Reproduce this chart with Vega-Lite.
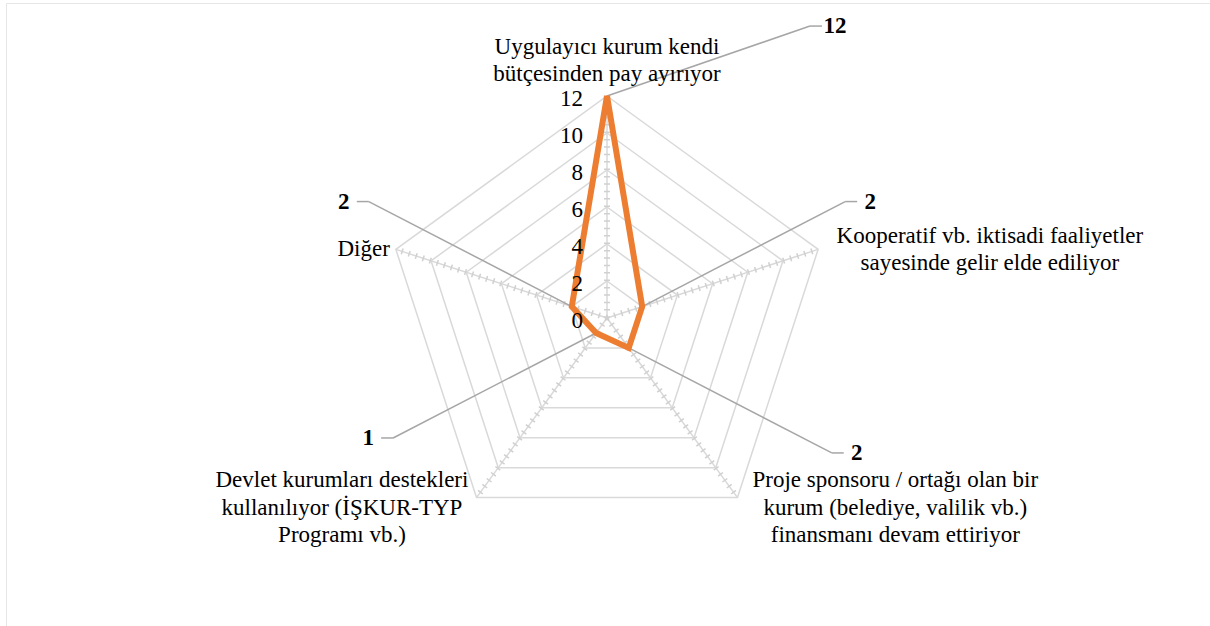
{
  "$schema": "https://vega.github.io/schema/vega-lite/v6.json",
  "width": 1204,
  "height": 623,
  "autosize": {"type": "none"},
  "padding": {"left": 6, "top": 3, "right": 0, "bottom": 0},
  "background": "white",
  "config": {"view": {"stroke": "#e6e6e6", "strokeWidth": 1}},
  "data": {"values": [
    {"category": "Uygulayıcı kurum kendi\nbütçesinden pay ayırıyor", "value": 12},
    {"category": "Kooperatif vb. iktisadi faaliyetler\nsayesinde gelir elde ediliyor", "value": 2},
    {"category": "Proje sponsoru / ortağı olan bir\nkurum (belediye, valilik vb.)\nfinansmanı devam ettiriyor", "value": 2},
    {"category": "Devlet kurumları destekleri\nkullanılıyor (İŞKUR-TYP\nProgramı vb.)", "value": 1},
    {"category": "Diğer", "value": 2}
  ]},
  "transform": [
    {"window": [{"op": "row_number", "as": "rn"}]},
    {"calculate": "(datum.rn - 1) * 2 * PI / 5", "as": "ang"},
    {"calculate": "sin(datum.ang)", "as": "sx"},
    {"calculate": "cos(datum.ang)", "as": "cy"},
    {"calculate": "0", "as": "o"},
    {"calculate": "datum.value * datum.sx", "as": "vx"},
    {"calculate": "datum.value * datum.cy", "as": "vy"},
    {"calculate": "12 * datum.sx", "as": "ex"},
    {"calculate": "12 * datum.cy", "as": "ey"},
    {"calculate": "datum.sx > -0.01 ? 1 : -1", "as": "dX"},
    {"calculate": "datum.cy >= 0 ? 1 : -1", "as": "dY"},
    {"calculate": "datum.vx + datum.dX * 228 / 18.5", "as": "tx"},
    {"calculate": "min(datum.vy + datum.dY * 105 / 18.5, 15.78)", "as": "ty"},
    {"calculate": "datum.tx - datum.dX * 25 / 18.5", "as": "kx"},
    {"calculate": "datum.tx - datum.dX * 13 / 18.5", "as": "hx"}
  ],
  "layer": [
    {
      "transform": [
        {"calculate": "[2,4,6,8,10,12]", "as": "lv"},
        {"flatten": ["lv"]},
        {"calculate": "datum.lv * datum.sx", "as": "gx"},
        {"calculate": "datum.lv * datum.cy", "as": "gy"}
      ],
      "mark": {"type": "line", "interpolate": "linear-closed", "color": "#d9d9d9", "strokeWidth": 1.5},
      "encoding": {
        "x": {"field": "gx", "type": "quantitative", "scale": {"domain": [-32.4865, 32.5946], "nice": false, "zero": false}, "axis": null},
        "y": {"field": "gy", "type": "quantitative", "scale": {"domain": [-16.6486, 17.027], "nice": false, "zero": false}, "axis": null},
        "detail": {"field": "lv", "type": "nominal"},
        "order": {"field": "rn", "type": "quantitative"}
      }
    },
    {
      "mark": {"type": "rule", "color": "#d9d9d9", "strokeWidth": 1.5},
      "encoding": {
        "x": {"field": "o", "type": "quantitative", "scale": {"domain": [-32.4865, 32.5946], "nice": false, "zero": false}, "axis": null},
        "y": {"field": "o", "type": "quantitative", "scale": {"domain": [-16.6486, 17.027], "nice": false, "zero": false}, "axis": null},
        "x2": {"field": "ex"},
        "y2": {"field": "ey"}
      }
    },
    {
      "mark": {"type": "rule", "color": "#d0d0d0", "strokeWidth": 6, "strokeDash": [1.5, 5.9]},
      "encoding": {
        "x": {"field": "o", "type": "quantitative", "scale": {"domain": [-32.4865, 32.5946], "nice": false, "zero": false}, "axis": null},
        "y": {"field": "o", "type": "quantitative", "scale": {"domain": [-16.6486, 17.027], "nice": false, "zero": false}, "axis": null},
        "x2": {"field": "ex"},
        "y2": {"field": "ey"}
      }
    },
    {
      "mark": {"type": "rule", "color": "#a6a6a6", "strokeWidth": 1.5},
      "encoding": {
        "x": {"field": "vx", "type": "quantitative", "scale": {"domain": [-32.4865, 32.5946], "nice": false, "zero": false}, "axis": null},
        "y": {"field": "vy", "type": "quantitative", "scale": {"domain": [-16.6486, 17.027], "nice": false, "zero": false}, "axis": null},
        "x2": {"field": "kx"},
        "y2": {"field": "ty"}
      }
    },
    {
      "mark": {"type": "rule", "color": "#a6a6a6", "strokeWidth": 1.5},
      "encoding": {
        "x": {"field": "kx", "type": "quantitative", "scale": {"domain": [-32.4865, 32.5946], "nice": false, "zero": false}, "axis": null},
        "y": {"field": "ty", "type": "quantitative", "scale": {"domain": [-16.6486, 17.027], "nice": false, "zero": false}, "axis": null},
        "x2": {"field": "hx"}
      }
    },
    {
      "mark": {"type": "line", "interpolate": "linear-closed", "color": "#ED7D31", "strokeWidth": 6},
      "encoding": {
        "x": {"field": "vx", "type": "quantitative", "scale": {"domain": [-32.4865, 32.5946], "nice": false, "zero": false}, "axis": null},
        "y": {"field": "vy", "type": "quantitative", "scale": {"domain": [-16.6486, 17.027], "nice": false, "zero": false}, "axis": null},
        "order": {"field": "rn", "type": "quantitative"}
      }
    },
    {
      "transform": [
        {"filter": "datum.rn == 1"},
        {"calculate": "[0,2,4,6,8,10,12]", "as": "lv"},
        {"flatten": ["lv"]}
      ],
      "mark": {"type": "text", "align": "right", "baseline": "middle", "dx": -24, "dy": 3, "fontSize": 23, "font": "Liberation Serif", "color": "#000000"},
      "encoding": {
        "x": {"field": "o", "type": "quantitative", "scale": {"domain": [-32.4865, 32.5946], "nice": false, "zero": false}, "axis": null},
        "y": {"field": "lv", "type": "quantitative", "scale": {"domain": [-16.6486, 17.027], "nice": false, "zero": false}, "axis": null},
        "text": {"field": "lv", "type": "quantitative"}
      }
    },
    {
      "transform": [
        {"calculate": "split(datum.category, '\\n')", "as": "line"},
        {"flatten": ["line"]},
        {"window": [{"op": "row_number", "as": "j"}], "groupby": ["category"]},
        {"calculate": "length(datum.line)", "as": "len"},
        {"joinaggregate": [{"op": "max", "field": "len", "as": "maxLen"}, {"op": "count", "as": "n"}], "groupby": ["category"]},
        {"calculate": "abs(datum.sx) < 0.1 ? 0 : (datum.sx > 0 ? 1 : -1)", "as": "dirX"},
        {"calculate": "12 * datum.sx + datum.dirX * (9 + datum.maxLen * 4.65) / 18.5", "as": "lx"},
        {"calculate": "12 * datum.cy + (datum.cy > 0.9 ? (datum.n * 13.75 + 8) : (datum.cy < 0 ? -10 : 0)) / 18.5", "as": "lcy"},
        {"calculate": "datum.lcy - (datum.j - 1 - (datum.n - 1) / 2) * 27.5 / 18.5", "as": "ly"}
      ],
      "mark": {"type": "text", "align": "center", "baseline": "middle", "fontSize": 23, "font": "Liberation Serif", "color": "#000000"},
      "encoding": {
        "x": {"field": "lx", "type": "quantitative", "scale": {"domain": [-32.4865, 32.5946], "nice": false, "zero": false}, "axis": null},
        "y": {"field": "ly", "type": "quantitative", "scale": {"domain": [-16.6486, 17.027], "nice": false, "zero": false}, "axis": null},
        "text": {"field": "line", "type": "nominal"}
      }
    },
    {
      "mark": {"type": "text", "align": "center", "baseline": "middle", "fontSize": 23, "fontWeight": "bold", "font": "Liberation Serif", "color": "#000000"},
      "encoding": {
        "x": {"field": "tx", "type": "quantitative", "scale": {"domain": [-32.4865, 32.5946], "nice": false, "zero": false}, "axis": null},
        "y": {"field": "ty", "type": "quantitative", "scale": {"domain": [-16.6486, 17.027], "nice": false, "zero": false}, "axis": null},
        "text": {"field": "value", "type": "quantitative"}
      }
    }
  ]
}
